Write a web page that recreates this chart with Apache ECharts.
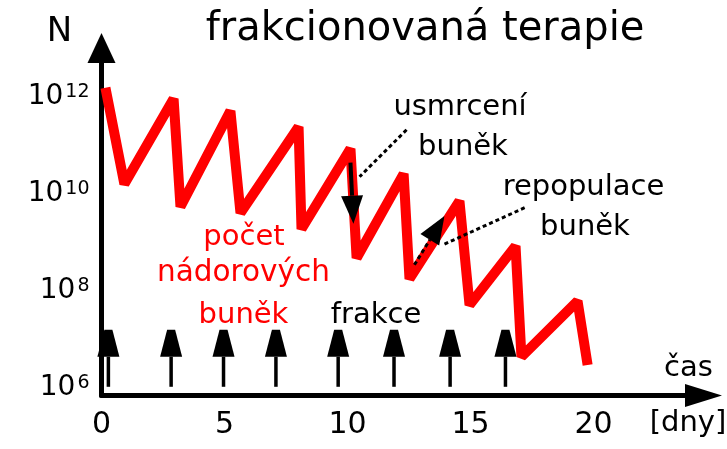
<!DOCTYPE html>
<html><head><meta charset="utf-8">
<script src="https://cdn.jsdelivr.net/npm/echarts@6/dist/echarts.min.js"></script>
<style>html,body{margin:0;padding:0;background:#fff}#c{width:727px;height:449px}</style>
</head><body><div id="c"></div>
<script>
// red saw-tooth: time in days and log10 of tumour cell count
const days = [0.16, 0.93, 2.93, 3.21, 5.24, 5.65, 8.01, 8.13, 10.12, 10.37, 12.28, 12.52, 14.55, 14.96, 16.83, 17.07, 19.35, 19.76];
const logN = [12.12, 10.13, 11.89, 9.66, 11.64, 9.53, 11.31, 9.20, 10.86, 8.60, 10.34, 8.17, 9.78, 7.63, 8.85, 6.56, 7.71, 6.39];
const xTicks = [0, 5, 10, 15, 20];
const yTicks = [6, 8, 10, 12];
// days at which a fraction is given
const fractionDays = [0.28, 2.83, 4.96, 7.09, 9.62, 11.89, 14.17, 16.42];
// annotation arrows / leaders: [day1, logN1, day2, logN2]
const killArrow = [10.12, 10.57, 10.24, 9.31];
const repopArrow = [12.72, 8.46, 13.94, 9.47];
const killLeader = [12.4, 11.25, 10.49, 10.28];
const repopLeader = [17.2, 9.64, 13.86, 8.87];

const FONT = '"DejaVu Sans"';
function txt(text, cx, baseline, size, color) {
  return {type: 'text', x: cx, y: baseline - 0.33 * size, z: 50,
    style: {text: text, fill: color || '#000', font: size + 'px ' + FONT, align: 'center', verticalAlign: 'middle'}};
}

const chart = echarts.init(document.getElementById('c'), null, {renderer: 'canvas'});
chart.setOption({
  animation: false,
  backgroundColor: '#fff',
  grid: {left: 101.5, right: 23.5, top: 48, bottom: 53.5, containLabel: false, outerBoundsMode: 'none'},
  xAxis: {
    type: 'value', min: 0, max: 24.47,
    splitLine: {show: false}, axisTick: {show: false},
    axisLine: {show: true, lineStyle: {color: '#000', width: 5}, symbol: ['none', 'triangle'], symbolSize: [23, 37]},
    axisLabel: {customValues: xTicks, color: '#000', fontFamily: FONT, fontSize: 30, lineHeight: 30, margin: 15,
      formatter: v => String(v)}
  },
  yAxis: {
    type: 'value', min: 5.76, max: 12.94,
    splitLine: {show: false}, axisTick: {show: false},
    axisLine: {show: true, lineStyle: {color: '#000', width: 5}, symbol: ['none', 'triangle'], symbolSize: [28, 30]},
    axisLabel: {customValues: yTicks, margin: 12, align: 'right', padding: [7, 0, 0, 0],
      formatter: v => '{b|10}{s|' + v + '}',
      rich: {
        b: {fontFamily: FONT, fontSize: 28, lineHeight: 28, color: '#000', verticalAlign: 'bottom'},
        s: {fontFamily: FONT, fontSize: 19, lineHeight: 10, color: '#000', verticalAlign: 'top', padding: [0, 0, 0, 2]}
      }}
  },
  series: [
    {
      type: 'line', z: 2,
      data: days.map((d, i) => [d, logN[i]]),
      showSymbol: false, symbol: 'none',
      lineStyle: {color: '#ff0000', width: 10, join: 'bevel'},
      clip: false
    },
    {
      type: 'custom', z: 5, clip: false,
      data: fractionDays.map(d => [d]),
      renderItem: function (params, api) {
        const d = api.value(0);
        const base = api.coord([d, 5.94]);
        const neck = api.coord([d, 6.56]);
        const tip = api.coord([d, 7.12]);
        const x = base[0];
        return {type: 'group', children: [
          {type: 'line', shape: {x1: x, y1: base[1], x2: x, y2: neck[1]}, style: {stroke: '#000', lineWidth: 3.5}},
          {type: 'polygon', shape: {points: [[x - 4, tip[1]], [x + 4, tip[1]], [x + 11, neck[1]], [x - 11, neck[1]]]}, style: {fill: '#000'}}
        ]};
      }
    },
    {
      type: 'custom', z: 6, clip: false,
      data: [killArrow.concat([0]), repopArrow.concat([1])],
      renderItem: function (params, api) {
        const p1 = api.coord([api.value(0), api.value(1)]);
        const p2 = api.coord([api.value(2), api.value(3)]);
        const dotted = api.value(4) === 1;
        const dx = p2[0] - p1[0], dy = p2[1] - p1[1];
        const len = Math.sqrt(dx * dx + dy * dy);
        const ux = dx / len, uy = dy / len;
        const hl = 28, hw = 11;
        const bx = p2[0] - ux * hl, by = p2[1] - uy * hl;
        return {type: 'group', children: [
          {type: 'line', shape: {x1: p1[0], y1: p1[1], x2: bx, y2: by},
            style: {stroke: '#000', lineWidth: dotted ? 3 : 4, lineDash: dotted ? [4, 3] : null}},
          {type: 'polygon', shape: {points: [[p2[0], p2[1]], [bx - uy * hw, by + ux * hw], [bx + uy * hw, by - ux * hw]]}, style: {fill: '#000'}}
        ]};
      }
    },
    {
      type: 'custom', z: 6, clip: false,
      data: [killLeader, repopLeader],
      renderItem: function (params, api) {
        const p1 = api.coord([api.value(0), api.value(1)]);
        const p2 = api.coord([api.value(2), api.value(3)]);
        return {type: 'line', shape: {x1: p1[0], y1: p1[1], x2: p2[0], y2: p2[1]},
          style: {stroke: '#000', lineWidth: 3, lineDash: [4, 3]}};
      }
    }
  ],
  graphic: [
    txt('frakcionovaná terapie', 425, 43, 40),
    txt('N', 59.5, 43, 34),
    txt('usmrcení', 460, 117, 29),
    txt('buněk', 463, 157, 29),
    txt('repopulace', 583.5, 197, 29),
    txt('buněk', 585, 237, 29),
    txt('počet', 244, 247, 29, '#ff0000'),
    txt('nádorových', 243.5, 283, 29.5, '#ff0000'),
    txt('buněk', 243.5, 325, 29, '#ff0000'),
    txt('frakce', 376, 325, 29),
    txt('čas', 688.5, 378, 29),
    txt('[dny]', 688, 433, 29)
  ]
});
</script>
</body></html>
